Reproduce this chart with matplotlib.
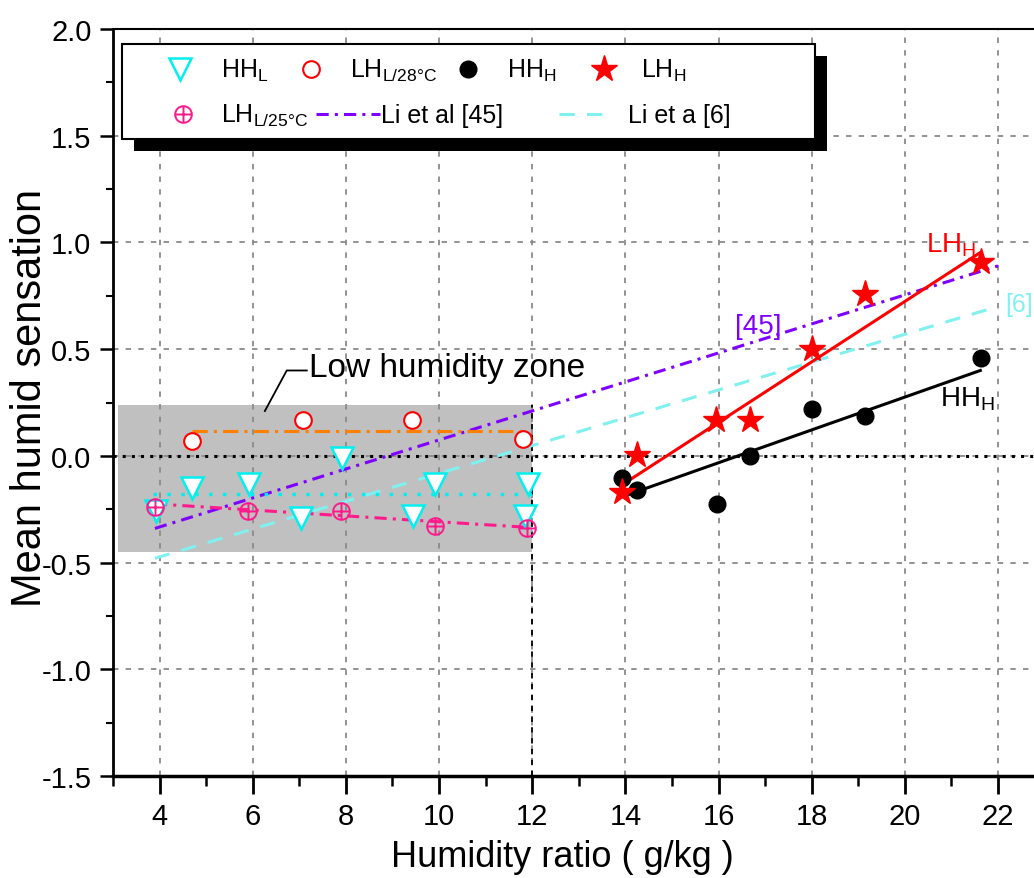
"""Mean humid sensation vs humidity ratio"""
import matplotlib.pyplot as plt
from matplotlib.path import Path
from matplotlib.patches import Rectangle
from matplotlib.ticker import MultipleLocator

plt.rcParams['font.family'] = ['Liberation Sans', 'DejaVu Sans']
plt.rcParams['mathtext.fontset'] = 'custom'
plt.rcParams['mathtext.rm'] = 'Liberation Sans'

# measured points
hhl_x = [3.93, 4.70, 5.92, 7.04, 7.92, 9.44, 9.91, 11.91, 11.84]
hhl_y = [-0.26, -0.15, -0.13, -0.29, -0.01, -0.28, -0.13, -0.13, -0.28]
lh28_x = [4.70, 7.07, 9.42, 11.80]
lh28_y = [0.07, 0.17, 0.17, 0.08]
lh25_x = [3.91, 5.90, 7.89, 9.91, 11.89]
lh25_y = [-0.24, -0.26, -0.26, -0.33, -0.34]
hhh_x = [13.92, 14.24, 15.97, 16.68, 18.01, 19.15, 21.63]
hhh_y = [-0.105, -0.16, -0.225, 0.0, 0.22, 0.185, 0.46]
lhh_x = [13.92, 14.24, 15.95, 16.68, 18.00, 19.15, 21.63]
lhh_y = [-0.17, 0.005, 0.17, 0.17, 0.50, 0.76, 0.91]

# fitted / literature lines (end points)
hhl_fit_x, hhl_fit_y = [3.85, 12.0], [-0.18, -0.18]
lh28_fit_x, lh28_fit_y = [4.7, 11.9], [0.118, 0.118]
lh25_fit_x, lh25_fit_y = [3.9, 11.9], [-0.225, -0.335]
hhh_fit_x, hhh_fit_y = [13.95, 21.62], [-0.19, 0.40]
lhh_fit_x, lhh_fit_y = [13.9, 21.6], [-0.14, 0.95]
li45_x, li45_y = [3.9, 22.0], [-0.34, 0.89]
li6_x, li6_y = [3.9, 22.0], [-0.48, 0.70]

# low humidity zone
zone_x = [3.1, 12.0]
zone_y = [-0.45, 0.24]

x_ticks = [4, 6, 8, 10, 12, 14, 16, 18, 20, 22]
y_ticks = [-1.5, -1.0, -0.5, 0.0, 0.5, 1.0, 1.5, 2.0]

CYAN = '#00f0f0'
PINK = '#ff1a8c'
PURPLE = '#7f00ff'
LCYAN = '#80f0f0'
ORANGE = '#ff8000'
LI45_LS = (0, (4, 2, 1, 2))
LI6_LS = (0, (5, 4))

circ = Path.unit_circle()
cross = Path([[-1, 0], [1, 0], [0, -1], [0, 1]],
             [Path.MOVETO, Path.LINETO, Path.MOVETO, Path.LINETO])
circ_plus = Path.make_compound_path(circ, cross)

# marker styles shared by plot and legend
st_hhl = dict(marker='v', ms=16, mfc='white', mec=CYAN, mew=1.8)
st_lh28 = dict(marker='o', ms=12, mfc='white', mec='red', mew=1.5)
st_lh25 = dict(marker=circ_plus, ms=12, mfc='none', mec=PINK, mew=1.4)
st_hhh = dict(marker='o', ms=12, color='black')
st_lhh = dict(marker='*', ms=20, color='red')

fig = plt.figure(figsize=(10.34, 8.79), dpi=100)
ax = fig.add_axes([113 / 1034, 102 / 879, 931.6 / 1034, 747 / 879])
ax.set_xlim(3, 23)
ax.set_ylim(-1.5, 2.0)


def pax(px, py):
    """pixel position in the figure -> axes fraction"""
    return (px - 113) / 931.6, (777 - py) / 747


ax.set_axisbelow(True)
ax.grid(True, which='major', color='#8a8a8a', linestyle=(0, (3, 4)), linewidth=1.3)

ax.add_patch(Rectangle((zone_x[0], zone_y[0]), zone_x[1] - zone_x[0], zone_y[1] - zone_y[0],
                       facecolor='#c0c0c0', edgecolor='none', zorder=0.2))
ax.plot([zone_x[1], zone_x[1]], [-1.5, zone_y[1]], color='black',
        linestyle=(0, (3, 3)), linewidth=1.3, zorder=0.8)
ax.axhline(0, color='black', linestyle=(0, (1, 2)), linewidth=2.2, zorder=0.9)

# lines
ax.plot(li45_x, li45_y, color=PURPLE, linewidth=2.2, linestyle=LI45_LS, zorder=2)
ax.plot(li6_x, li6_y, color=LCYAN, linewidth=2.2, linestyle=LI6_LS, zorder=2)
ax.plot(hhl_fit_x, hhl_fit_y, color=CYAN, linewidth=2.5, linestyle=(0, (1, 3)), zorder=2)
ax.plot(lh28_fit_x, lh28_fit_y, color=ORANGE, linewidth=2.2, linestyle=(0, (5, 2, 1, 2)), zorder=2)
ax.plot(lh25_fit_x, lh25_fit_y, color=PINK, linewidth=2.2, linestyle=(0, (4, 2, 1, 2)), zorder=2)
ax.plot(hhh_fit_x, hhh_fit_y, color='black', linewidth=2.2, zorder=2)
ax.plot(lhh_fit_x, lhh_fit_y, color='red', linewidth=2.2, zorder=2)

# markers
ax.plot(hhl_x, hhl_y, ls='none', zorder=3, **st_hhl)
ax.plot(lh28_x, lh28_y, ls='none', zorder=3, **st_lh28)
ax.plot(lh25_x, lh25_y, ls='none', zorder=3, **st_lh25)
ax.plot(hhh_x, hhh_y, ls='none', zorder=3, **st_hhh)
ax.plot(lhh_x, lhh_y, ls='none', zorder=3, **st_lhh)

# annotations
ax.text(20.45, 0.99, r'$\mathregular{LH_H}$', color='red', fontsize=20, va='center')
ax.text(20.75, 0.27, r'$\mathregular{HH_H}$', color='black', fontsize=20, va='center')
ax.text(16.35, 0.61, '[45]', color=PURPLE, fontsize=20, va='center')
ax.text(22.15, 0.71, '[6]', color=LCYAN, fontsize=18, va='center')
ax.plot([6.26, 6.73, 7.16], [0.21, 0.40, 0.40], color='black', linewidth=1.3, zorder=3)
ax.text(7.2, 0.415, 'Low humidity zone', fontsize=24, va='center')

# axes styling
ax.set_xticks(x_ticks)
ax.xaxis.set_minor_locator(MultipleLocator(1))
ax.set_yticks(y_ticks)
ax.set_yticklabels(['%.1f' % v for v in y_ticks])
ax.yaxis.set_minor_locator(MultipleLocator(0.25))
ax.tick_params(which='both', direction='out', top=False, right=False)
ax.tick_params(axis='x', which='major', length=13, width=2, labelsize=21, pad=6)
ax.tick_params(axis='x', which='minor', length=7, width=1.8)
ax.tick_params(axis='y', which='major', length=9.5, width=1.8, labelsize=21, pad=6)
ax.tick_params(axis='y', which='minor', length=5, width=1.5)
ax.spines['right'].set_visible(False)
ax.spines['left'].set_linewidth(2)
ax.spines['bottom'].set_linewidth(2.5)
ax.spines['top'].set_linewidth(1.5)

ax.set_xlabel('Humidity ratio ( g/kg )', fontsize=26)
ax.xaxis.set_label_coords(0.482, -0.084)
ax.set_ylabel('Mean humid sensation', fontsize=30)
ax.yaxis.set_label_coords(-0.068, 0.507)

# legend box with a solid shadow, drawn by hand
x0, y0 = pax(122, 140)
x1, y1 = pax(815, 45)
sx, sy = 12 / 931.6, 12 / 747
ax.add_patch(Rectangle((x0 + sx, y0 - sy), x1 - x0, y1 - y0, transform=ax.transAxes,
                       facecolor='black', edgecolor='none', zorder=9))
ax.add_patch(Rectangle((x0, y0), x1 - x0, y1 - y0, transform=ax.transAxes,
                       facecolor='white', edgecolor='black', linewidth=1.5, zorder=10))

leg_markers = [
    (st_hhl, 180, 70, r'$\mathregular{HH_L}$', 221, 78),
    (st_lh28, 311, 70, r'$\mathregular{LH_{L/28°C}}$', 350, 78),
    (st_hhh, 468, 70, r'$\mathregular{HH_H}$', 507, 78),
    (st_lhh, 604, 70, r'$\mathregular{LH_H}$', 641, 78),
    (st_lh25, 183, 115, r'$\mathregular{LH_{L/25°C}}$', 221, 123),
]
for st, mx, my, lab, tx, ty in leg_markers:
    ax.plot(*pax(mx, my), transform=ax.transAxes, ls='none', zorder=11, **st)
    ax.text(*pax(tx, ty), lab, transform=ax.transAxes, fontsize=18, va='baseline', zorder=11)

leg_lines = [
    (PURPLE, LI45_LS, 316, 380, 'Li et al [45]', 381),
    (LCYAN, LI6_LS, 559, 612, 'Li et a [6]', 628),
]
for col, ls, lx0, lx1, lab, tx in leg_lines:
    (ax0, ay), (ax1, _) = pax(lx0, 115), pax(lx1, 115)
    ax.plot([ax0, ax1], [ay, ay], transform=ax.transAxes, color=col, linestyle=ls,
            linewidth=2.2, zorder=11)
    ax.text(*pax(tx, 123), lab, transform=ax.transAxes, fontsize=18, va='baseline', zorder=11)

fig.savefig('out.png', dpi=100)
